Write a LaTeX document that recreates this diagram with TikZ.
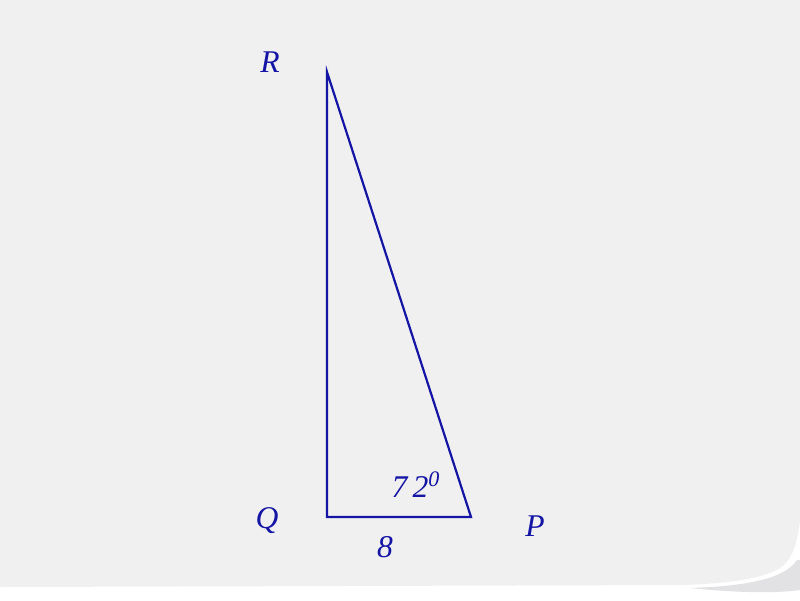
\documentclass[tikz,border=0pt]{standalone}
\usepackage{fontspec}
\setmainfont{Liberation Serif}
\usetikzlibrary{positioning,backgrounds}

\definecolor{inkblue}{RGB}{20,20,165}
\definecolor{paper}{RGB}{240,240,241}
\definecolor{papershade}{RGB}{226,226,228}

\begin{document}
\begin{tikzpicture}[
    x=0.02cm, y=-0.02cm,
    font=\fontsize{18}{20}\selectfont\itshape,
    side/.style={draw=inkblue, line width=1.25pt, line join=miter},
    vertex/.style={text=inkblue, inner sep=0pt},
    measure/.style={text=inkblue, inner sep=0pt}
]
\useasboundingbox (0,0) rectangle (800,600);

% sheet of paper with curled corner
\fill[white] (0,0) rectangle (800,600);
\fill[papershade] (690,588) .. controls (750,586) and (785,578) .. (797,560)
    -- (800,560) -- (800,590) .. controls (770,594) and (730,592) .. (690,588) -- cycle;
\fill[paper] (0,0) -- (800,0) -- (800,520)
    .. controls (797,545) and (792,560) .. (780,568)
    .. controls (760,580) and (720,584) .. (680,585)
    -- (0,587) -- cycle;

% corners of the triangle
\coordinate (q) at (327,517);
\coordinate (r) at (327,72);
\coordinate (p) at (471,517);

\draw[side] (q) -- (r) -- (p) -- cycle;

\node[vertex] (labelr) at (270,62) {R};
\node[vertex] (labelq) at (267,521) {Q};
\node[vertex] (labelp) at (535,526) {P};
\node[measure] (base) at (385,547) {8};
\node[measure] (angle) at (416,485) {7\,2\textsuperscript{\itshape 0}};

\end{tikzpicture}
\end{document}
